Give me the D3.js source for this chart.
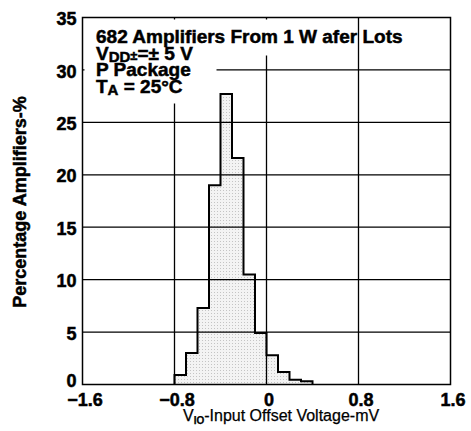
<!DOCTYPE html>
<html>
<head>
<meta charset="utf-8">
<script src="https://cdn.jsdelivr.net/npm/d3@7/dist/d3.min.js"></script>
<style>
  html, body { margin: 0; padding: 0; background: #fff; }
  svg { display: block; }
  text { font-family: "Liberation Sans", Arial, Helvetica, sans-serif; fill: #000; }
  .heavy { stroke: #000; stroke-width: 0.5px; }
</style>
</head>
<body>
<svg id="chart" width="471" height="431"></svg>
<script>
// ---- data ----
const binEdges = [-0.8, -0.7, -0.6, -0.5, -0.4, -0.3, -0.2, -0.1, 0.0, 0.1, 0.2, 0.3, 0.4];
const percents = [0.9, 3.0, 7.3, 19.0, 27.7, 21.6, 10.5, 4.9, 2.8, 1.2, 0.45, 0.3];
const xTicks = [-1.6, -0.8, 0, 0.8, 1.6];
const xTickLabels = ["\u22121.6", "\u22120.8", "0", "0.8", "1.6"];
const yTicks = [0, 5, 10, 15, 20, 25, 30, 35];
const xGrid = [-0.8, 0, 0.8];
const yGrid = [5, 10, 15, 20, 25, 30];

const svg = d3.select("#chart");
const L = 82.5, R = 450.5, T = 17.5, B = 384.5;
const x = d3.scaleLinear().domain([-1.6, 1.6]).range([L, R]);
const y = d3.scaleLinear().domain([0, 35]).range([B, T]);

// stipple pattern
const defs = svg.append("defs");
const pat = defs.append("pattern").attr("id", "stip").attr("patternUnits", "userSpaceOnUse")
  .attr("width", 3).attr("height", 3);
pat.append("rect").attr("width", 3).attr("height", 3).attr("fill", "#f3f3f3");
pat.append("rect").attr("x", 1).attr("y", 1).attr("width", 1).attr("height", 1).attr("fill", "#c4c4c4");

// histogram points
const pts = [[binEdges[0], 0]];
percents.forEach((v, i) => { pts.push([binEdges[i], v]); pts.push([binEdges[i + 1], v]); });
pts.push([binEdges[binEdges.length - 1], 0]);
const line = d3.line().x(d => x(d[0])).y(d => y(d[1]));

svg.append("path").attr("d", line(pts) + "Z").attr("fill", "url(#stip)").attr("stroke", "none");

// gridlines
svg.append("g").selectAll("line").data(yGrid).join("line")
  .attr("x1", L).attr("x2", R).attr("y1", d => y(d)).attr("y2", d => y(d))
  .attr("stroke", "#000").attr("stroke-width", 1.3);
svg.append("g").selectAll("line").data(xGrid).join("line")
  .attr("x1", d => x(d)).attr("x2", d => x(d)).attr("y1", T).attr("y2", B)
  .attr("stroke", "#000").attr("stroke-width", 1.3);

// white areas behind annotation text
svg.append("rect").attr("x", L + 2).attr("y", T + 2).attr("width", 272).attr("height", 36).attr("fill", "#fff");
svg.append("rect").attr("x", L + 2).attr("y", T + 38).attr("width", 132).attr("height", 48).attr("fill", "#fff");

// histogram outline
svg.append("path").attr("d", line(pts)).attr("fill", "none").attr("stroke", "#000")
  .attr("stroke-width", 2).attr("stroke-linejoin", "miter");

// frame
svg.append("rect").attr("x", L).attr("y", T).attr("width", R - L).attr("height", B - T)
  .attr("fill", "none").attr("stroke", "#000").attr("stroke-width", 1.5);

// axes
const yAxis = svg.append("g").attr("transform", `translate(${L},0)`)
  .call(d3.axisLeft(y).tickValues(yTicks).tickSize(0).tickPadding(6).tickFormat(d3.format("d")));
yAxis.select(".domain").remove();
yAxis.selectAll("text").attr("font-size", 18).attr("font-weight", "bold").attr("class", "heavy")
  .attr("font-family", "'Liberation Sans', Arial, sans-serif")
  .attr("dy", d => d === 0 ? "0.1em" : "0.4em");

const xAxis = svg.append("g").attr("transform", `translate(0,${B})`)
  .call(d3.axisBottom(x).tickValues(xTicks).tickSize(0).tickPadding(8.5)
    .tickFormat((d, i) => xTickLabels[i]));
xAxis.select(".domain").remove();
xAxis.selectAll("text").attr("font-size", 18).attr("font-weight", "bold").attr("class", "heavy")
  .attr("font-family", "'Liberation Sans', Arial, sans-serif").attr("dx", 2);

// axis titles
const xt = svg.append("text").attr("x", 183).attr("y", 421).attr("font-size", 16)
  .attr("stroke", "#000").attr("stroke-width", 0.25);
xt.append("tspan").text("V");
xt.append("tspan").attr("font-size", 10).attr("font-weight", "bold").attr("dy", 3).text("IO");
xt.append("tspan").attr("dy", -3).text("-Input Offset Voltage-mV");

svg.append("text").attr("transform", "translate(26,202) rotate(-90)").attr("class", "heavy")
  .attr("text-anchor", "middle").attr("font-size", 18).attr("font-weight", "bold")
  .text("Percentage Amplifiers-%");

// annotation
const ann = svg.append("g").attr("font-size", 19).attr("font-weight", "bold").attr("class", "heavy");
ann.append("text").attr("x", 96).attr("y", 42.5).text("682 Amplifiers From 1 W afer Lots");
const t2 = ann.append("text").attr("x", 96).attr("y", 59.5);
t2.append("tspan").text("V");
t2.append("tspan").attr("font-size", 15).attr("dy", 2).text("DD");
t2.append("tspan").attr("font-size", 13).attr("dy", -2).text("\u00b1");
t2.append("tspan").text("=\u00b1 5 V");
ann.append("text").attr("x", 96).attr("y", 76).text("P Package");
const t4 = ann.append("text").attr("x", 96).attr("y", 93);
t4.append("tspan").text("T");
t4.append("tspan").attr("font-size", 15).attr("dy", 2).text("A");
t4.append("tspan").attr("dy", -2).text(" = 25\u00b0C");
</script>
</body>
</html>
